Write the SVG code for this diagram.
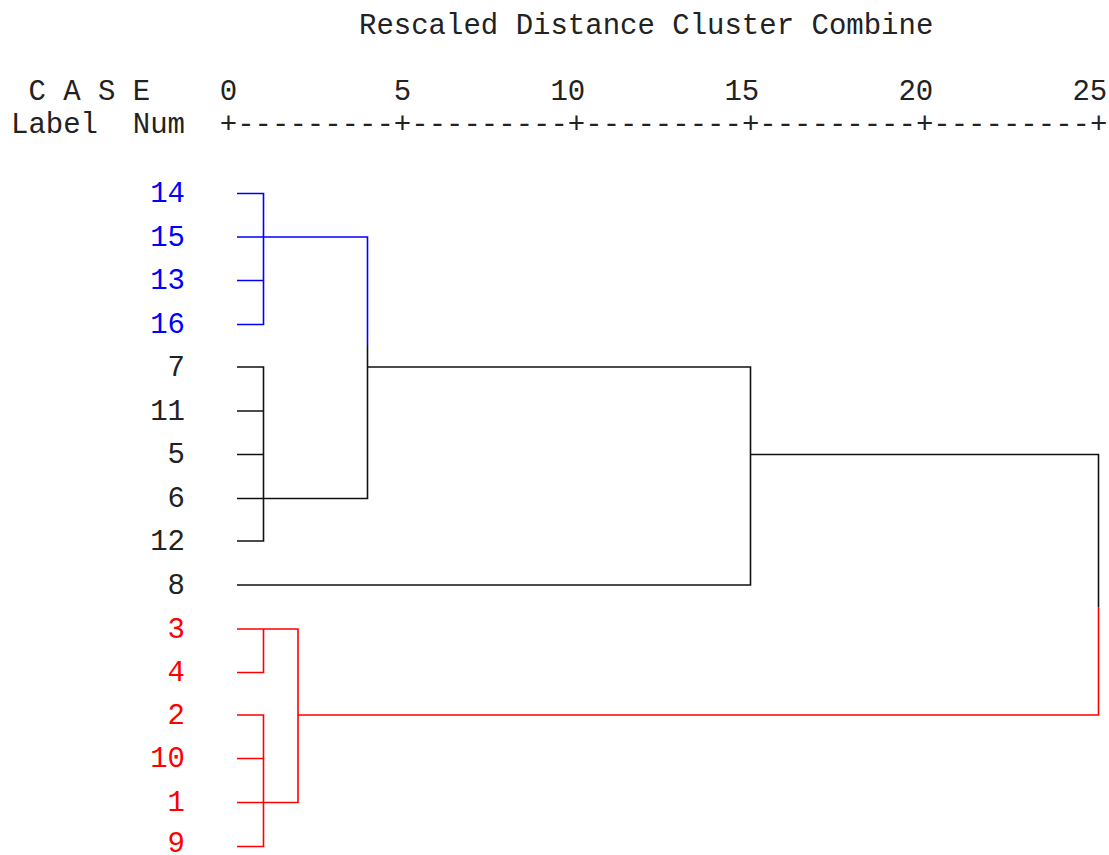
<svg xmlns="http://www.w3.org/2000/svg" width="1109" height="855" viewBox="0 0 1109 855">
<style>
text{font-family:"Liberation Mono","DejaVu Sans Mono",monospace;font-size:29px}
.hd{fill:#222}
.lb{text-anchor:end}
.b{fill:#0000ff}.k{fill:#222}.r{fill:#ff0000}
.cb{stroke:#0000ff}.ck{stroke:#111}.cr{stroke:#ff0000}
#connectors path{fill:none;stroke-width:1.6}
</style>
<rect width="1109" height="855" fill="#fff"/>
<g id="header" class="hd">
<text x="359" y="34">Rescaled Distance Cluster Combine</text>
<text x="28.4" y="100">C A S E</text>
<text x="219.8" y="100">0</text>
<text x="393.8" y="100">5</text>
<text x="550.4" y="100">10</text>
<text x="724.4" y="100">15</text>
<text x="898.4" y="100">20</text>
<text x="1072.4" y="100">25</text>
<text x="11" y="133">Label</text>
<text x="132.8" y="133">Num</text>
<text x="219.8" y="133">+---------+---------+---------+---------+---------+</text>
</g>
<g id="node-14"><text class="lb b" x="185" y="202">14</text></g>
<g id="node-15"><text class="lb b" x="185" y="245.5">15</text></g>
<g id="node-13"><text class="lb b" x="185" y="289">13</text></g>
<g id="node-16"><text class="lb b" x="185" y="333">16</text></g>
<g id="node-7"><text class="lb k" x="185" y="375.5">7</text></g>
<g id="node-11"><text class="lb k" x="185" y="419.5">11</text></g>
<g id="node-5"><text class="lb k" x="185" y="463">5</text></g>
<g id="node-6"><text class="lb k" x="185" y="507">6</text></g>
<g id="node-12"><text class="lb k" x="185" y="549.5">12</text></g>
<g id="node-8"><text class="lb k" x="185" y="593.5">8</text></g>
<g id="node-3"><text class="lb r" x="185" y="637.5">3</text></g>
<g id="node-4"><text class="lb r" x="185" y="681">4</text></g>
<g id="node-2"><text class="lb r" x="185" y="723.5">2</text></g>
<g id="node-10"><text class="lb r" x="185" y="767">10</text></g>
<g id="node-1"><text class="lb r" x="185" y="811">1</text></g>
<g id="node-9"><text class="lb r" x="185" y="852">9</text></g>
<g id="connectors">
<path class="cb" d="M237 193.5H263.5V324.5H237M237 280.5H263.5M237 237H367.5V345"/>
<path class="ck" d="M367.5 345V498.5H237M237 367H263.5V541H237M237 411H263.5M237 454.5H263.5"/>
<path class="ck" d="M367.5 367H750.5V585H237M750.5 454.5H1098.5V607"/>
<path class="cr" d="M1098.5 607V715H298M237 629H298V802.5H237M237 672.5H263.5V629M237 715H263.5V846.5H237M237 758.5H263.5"/>
</g>
</svg>
